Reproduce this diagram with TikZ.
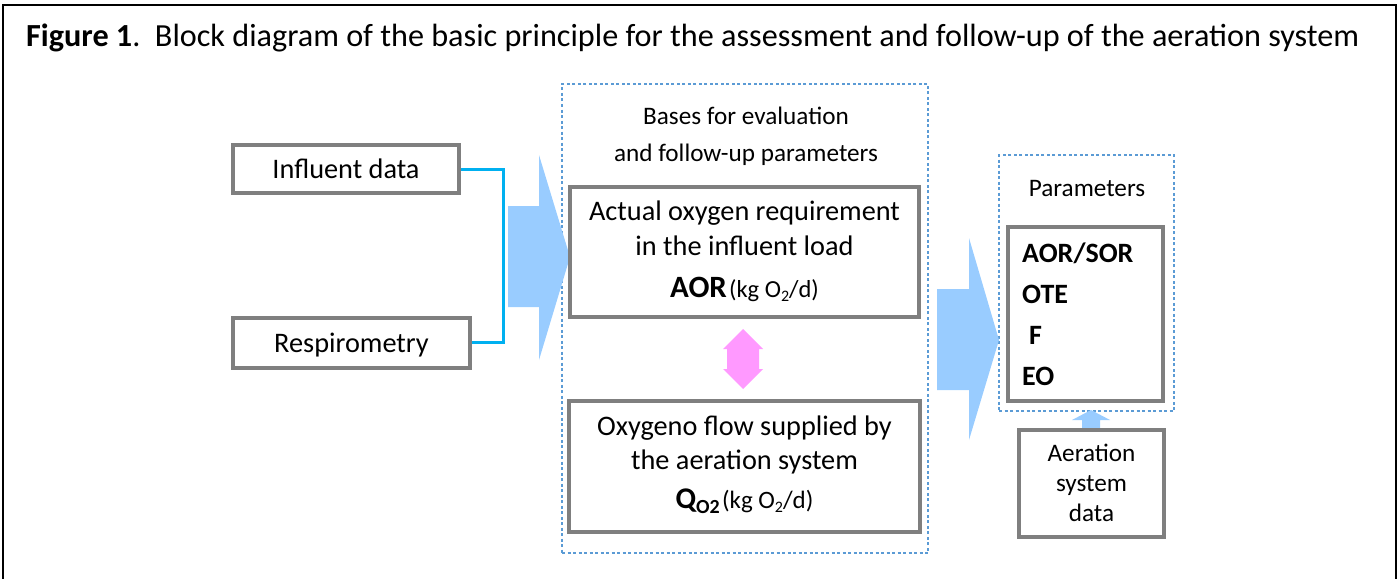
\documentclass[tikz,border=0pt]{standalone}
\usepackage{fontspec}
\setmainfont{Carlito}
\definecolor{boxgray}{RGB}{127,127,127}
\definecolor{wire}{RGB}{0,176,240}
\definecolor{bigarrow}{RGB}{153,204,255}
\definecolor{pinkarrow}{RGB}{255,153,255}
\definecolor{dashblue}{RGB}{91,155,213}
\newcommand{\mysub}[1]{\raisebox{-0.35ex}{\fontsize{16}{16}\selectfont #1}}
\begin{document}
\begin{tikzpicture}[x=1pt,y=-1pt,
  graybox/.style={draw=boxgray,line width=3.5pt,inner sep=0pt,rectangle},
  dashbox/.style={draw=dashblue,line width=1.4pt,dash pattern=on 3pt off 2.5pt,inner sep=0pt,rectangle},
  lbl/.style={inner sep=0pt,anchor=base,font=\fontsize{28.3}{28.3}\selectfont},
  slbl/.style={inner sep=0pt,anchor=base,font=\fontsize{25.2}{25.2}\selectfont},
  plbl/.style={inner sep=0pt,anchor=base west,font=\fontsize{28}{28}\selectfont\bfseries},
  wireline/.style={draw=wire,line width=3pt}]
\useasboundingbox (0,0) rectangle (1399,578);
\clip (0,0) rectangle (1399,578);
% outer frame
\draw[line width=1.5pt] (3,5) rectangle (1396,620);
% title
\node[inner sep=0pt,anchor=base west,font=\fontsize{32.2}{32.2}\selectfont] (title) at (26,47)
  {\textbf{Figure 1}.\ \ Block diagram of the basic principle for the assessment and follow-up of the aeration system};
% dashed containers
\node[dashbox,minimum width=366pt,minimum height=469pt] (bases) at (745,318.5) {};
\node[dashbox,minimum width=175pt,minimum height=256pt] (params) at (1086.5,283) {};
% left boxes
\node[graybox,minimum width=226pt,minimum height=48pt] (influent) at (346,169) {};
\node[lbl] (influentT) at (346,178) {Influent data};
\node[graybox,minimum width=237pt,minimum height=50pt] (resp) at (351.5,343) {};
\node[lbl] (respT) at (351.5,352) {Respirometry};
% wire
\coordinate (j1) at (503,169);
\coordinate (j2) at (503,342);
\draw[wireline] (influent.east) -- (j1) -- (j2) -- (resp.east |- j2);
% big arrow 1
\fill[bigarrow] (508,206) -- (539,206) -- (539,155) -- (570,257) -- (539,360) -- (539,307) -- (508,307) -- cycle;
% bases texts
\node[slbl] (basesT1) at (746,124) {Bases for evaluation};
\node[slbl] (basesT2) at (746,161) {and follow-up parameters};
% AOR box
\node[graybox,minimum width=349pt,minimum height=130pt] (aor) at (744.5,252) {};
\node[lbl] (aorT1) at (744.5,220) {Actual oxygen requirement};
\node[lbl] (aorT2) at (744.5,255) {in the influent load};
\node[inner sep=0pt,anchor=base] (aorT3) at (744.5,297) {{\fontsize{31}{31}\selectfont\bfseries AOR} {\fontsize{24.5}{24.5}\selectfont (kg O\mysub{2}/d)}};
% pink double arrow
\fill[pinkarrow] (743,329) -- (763,349) -- (759,349) -- (759,369) -- (763,369) -- (743,389) -- (723,369) -- (727,369) -- (727,349) -- (723,349) -- cycle;
% QO2 box
\node[graybox,minimum width=351pt,minimum height=131pt] (qo2) at (744.5,466.5) {};
\node[lbl] (qo2T1) at (744.5,435) {Oxygeno flow supplied by};
\node[lbl] (qo2T2) at (744.5,469) {the aeration system};
\node[inner sep=0pt,anchor=base] (qo2T3) at (744.5,508) {{\fontsize{30}{30}\selectfont\bfseries Q\raisebox{-0.35ex}{\fontsize{20}{20}\selectfont O2}} {\fontsize{25}{25}\selectfont (kg O\mysub{2}/d)}};
% big arrow 2
\fill[bigarrow] (937,289) -- (969,289) -- (969,238) -- (999,340) -- (969,440) -- (969,390) -- (937,390) -- cycle;
% parameters
\node[slbl] (paramsT) at (1087,196) {Parameters};
\node[graybox,minimum width=155pt,minimum height=174pt] (pbox) at (1085.5,314) {};
\node[plbl] (p1) at (1022,262) {AOR/SOR};
\node[plbl] (p2) at (1022,303) {OTE};
\node[plbl] (p3) at (1029,344) {F};
\node[plbl] (p4) at (1022,385) {EO};
% small arrow
\fill[bigarrow] (1091,410) -- (1110,420) -- (1100,420) -- (1100,430) -- (1082,430) -- (1082,420) -- (1072,420) -- cycle;
% aeration box
\node[graybox,minimum width=145pt,minimum height=107pt] (aer) at (1091.5,483.5) {};
\node[slbl] (aerT1) at (1091.5,461) {Aeration};
\node[slbl] (aerT2) at (1091.5,491) {system};
\node[slbl] (aerT3) at (1091.5,521) {data};
\end{tikzpicture}
\end{document}
